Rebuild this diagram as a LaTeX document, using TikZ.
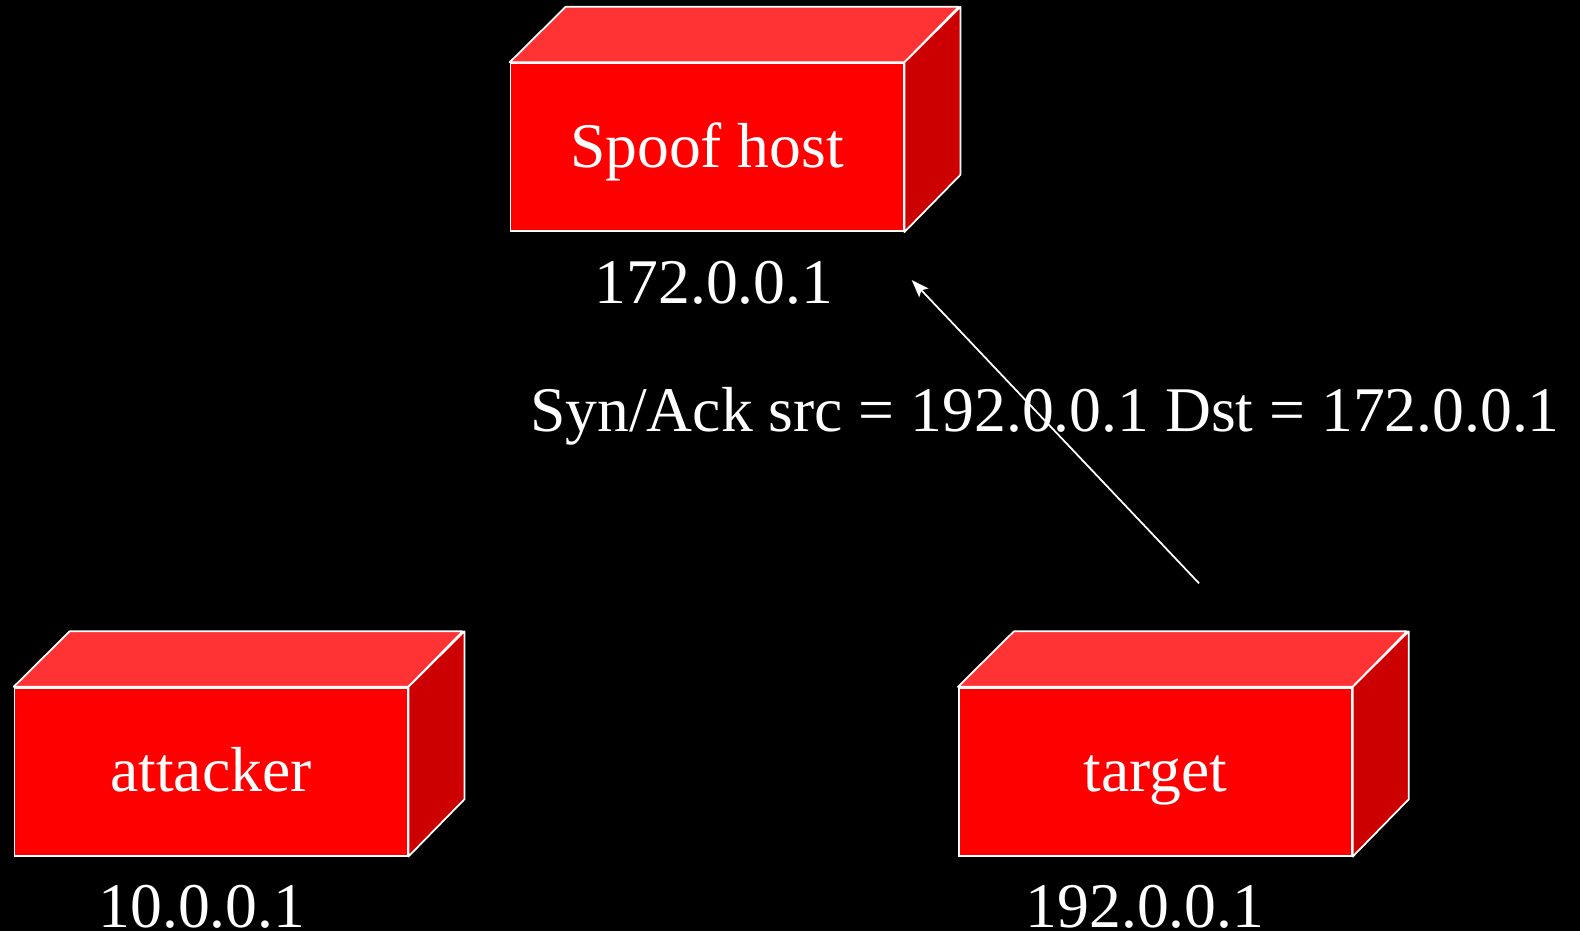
\documentclass[tikz,border=0pt]{standalone}
\usepackage{fontspec}
\setmainfont{Liberation Serif}
\usetikzlibrary{arrows.meta}
\definecolor{boxfront}{HTML}{FF0000}
\definecolor{boxtop}{HTML}{FF3333}
\definecolor{boxside}{HTML}{CC0000}
\tikzset{
  host/.style={draw=white, fill=boxfront, text=white, line width=0.5pt,
    minimum width=3.93cm, minimum height=1.68cm, inner sep=0pt,
    text height=0.5cm, text depth=0.1cm,
    font=\fontsize{18.1}{22}\selectfont},
  topface/.style={draw=white, fill=boxtop, line width=0.5pt, line join=round},
  sideface/.style={draw=white, fill=boxside, line width=0.5pt, line join=round},
  addr/.style={text=white, anchor=base, inner sep=0pt, font=\fontsize{18.1}{22}\selectfont},
  msg/.style={draw=white, line width=0.5pt, -{Stealth[length=5pt, width=3.6pt, inset=1pt]}}
}
\begin{document}
\begin{tikzpicture}
\fill[black] (0,0) rectangle (15.8,9.31);
\useasboundingbox (0,0) rectangle (15.8,9.31);

% spoof host
\path (7.07,7.838) node[host] (spoof){Spoof host};
\filldraw[topface] (spoof.north west) -- ++(0.56,0.555) -- ++(3.93,0) -- (spoof.north east) -- cycle;
\filldraw[sideface] (spoof.north east) -- ++(0.56,0.555) -- ++(0,-1.68) -- (spoof.south east) -- cycle;
\path (7.14,6.28) node[addr] (spoofip){172.0.0.1};

% attacker
\path (2.11,1.593) node[host] (attacker){attacker};
\filldraw[topface] (attacker.north west) -- ++(0.56,0.555) -- ++(3.93,0) -- (attacker.north east) -- cycle;
\filldraw[sideface] (attacker.north east) -- ++(0.56,0.555) -- ++(0,-1.68) -- (attacker.south east) -- cycle;
\path (2.02,0.04) node[addr] (attackerip){10.0.0.1};

% target
\path (11.553,1.593) node[host] (target){target};
\filldraw[topface] (target.north west) -- ++(0.56,0.555) -- ++(3.93,0) -- (target.north east) -- cycle;
\filldraw[sideface] (target.north east) -- ++(0.56,0.555) -- ++(0,-1.68) -- (target.south east) -- cycle;
\path (11.45,0.04) node[addr] (targetip){192.0.0.1};

% syn/ack
\path (11.99,3.477) coordinate (ackfrom);
\path (9.117,6.51) coordinate (ackto);
\path (10.45,4.993) node[addr] (ack){Syn/Ack src = 192.0.0.1 Dst = 172.0.0.1};
\draw[msg] (ackfrom) -- (ackto);
\end{tikzpicture}
\end{document}
